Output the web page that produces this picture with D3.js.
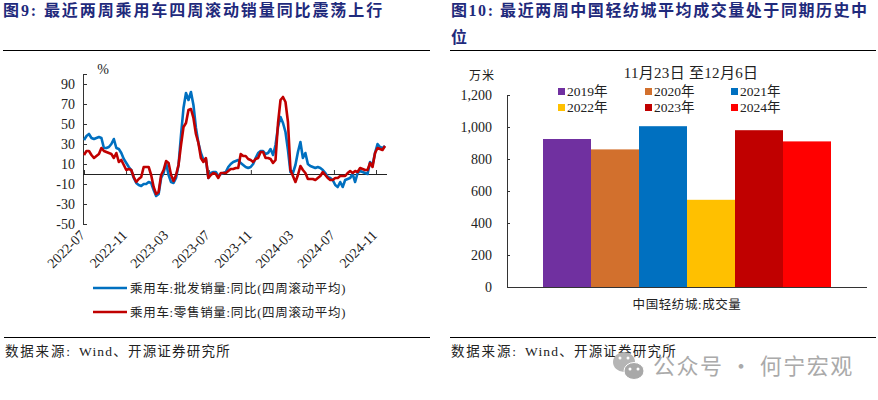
<!DOCTYPE html>
<html><head><meta charset="utf-8">
<script src="https://cdn.jsdelivr.net/npm/d3@7"></script>
<style>
html,body{margin:0;padding:0;background:#fff}
svg{display:block}
text{font-family:"Liberation Serif","Noto Sans CJK SC",serif;fill:#222}
</style></head><body>
<svg id="c" width="878" height="400"></svg>
<script>
const wholesale=[34,38,40,36,35,36,37,36,26,26,27,30,35,26,25,21,15,11,7,4,-4,-9,-11,-12,-10,-10,-8,-9,-16,-22,-20,-4,1,11,-1,-8,-9,-4,9,39,66,81,74,82,69,46,31,21,14,15,-4,1,2,2,-2,0,1,2,7,10,12,13,14,11,9,7,6,7,10,16,21,23,23,20,21,25,19,29,47,57,51,42,24,2,1,9,22,32,16,21,10,8,7,6,7,6,4,1,-3,-4,-6,-11,-13,-8,-13,-6,-5,-4,0,-8,1,3,2,1,0,12,9,21,30,27,26,28];
const retail=[19,23,23,19,16,18,20,26,23,22,21,20,16,21,12,14,9,4,5,4,-3,-8,-5,-3,7,7,7,-1,-13,-20,-18,-1,4,13,11,-1,-7,-1,9,29,47,51,64,65,56,40,31,16,12,16,-4,-1,1,0,-4,1,1,1,3,5,5,6,6,20,18,18,15,14,12,15,16,22,22,16,16,15,11,14,51,74,77,72,52,4,-2,-8,-1,8,4,1,-5,-5,-5,-6,-4,-2,2,-1,-4,-6,-6,-4,-4,-2,-2,-2,1,3,1,3,2,6,5,4,4,11,7,21,26,25,24,28];
const xTickLabels=["2022-07","2022-11","2023-03","2023-07","2023-11","2024-03","2024-07","2024-11"];
const yTicksLeft=[90,70,50,30,10,-10,-30,-50];
const seriesNames=["乘用车:批发销量:同比(四周滚动平均)","乘用车:零售销量:同比(四周滚动平均)"];
const years=["2019年","2020年","2021年","2022年","2023年","2024年"];
const volumes=[925,860,1005,545,980,910];
const barColors=["#7030A0","#D2702D","#0070C0","#FFC000","#C00000","#FF0000"];
const yTicksRight=[0,200,400,600,800,1000,1200];

const svg=d3.select("#c");
const NAVY="#1F2A7C";
function txt(x,y,s,size,o={}){
  const t=svg.append("text").attr("x",x).attr("y",y).attr("font-size",size).text(s);
  if(o.anchor)t.attr("text-anchor",o.anchor);
  if(o.ls)t.style("letter-spacing",o.ls+"px");
  if(o.w)t.attr("font-weight",o.w);
  if(o.fill)t.style("fill",o.fill);
  if(o.ff)t.style("font-family",o.ff);
  return t;
}
function rule(x1,x2,y){svg.append("line").attr("x1",x1).attr("x2",x2).attr("y1",y).attr("y2",y).attr("stroke","#000").attr("stroke-width",1);}

// titles
txt(3,16,"图9:  最近两周乘用车四周滚动销量同比震荡上行",16,{w:700,fill:NAVY,ls:1.9});
txt(451,16,"图10:  最近两周中国轻纺城平均成交量处于同期历史中",16,{w:700,fill:NAVY,ls:1.55});
txt(451,43,"位",16,{w:700,fill:NAVY});
rule(3,430,50.5);rule(450,876,50.5);
rule(4,430,337.5);rule(450,876,337.5);
[5,451].forEach(x0=>{
  txt(x0,356,"数据来源:",13.5,{ls:1.8});
  txt(x0+74,356,"Wind、开源证券研究所",13.5,{ls:1.2});
});

// left chart
const parse=d3.timeParse("%Y-%m");
const start=parse("2022-07");
const x=d3.scaleTime().domain([start,parse("2024-11")]).range([84,376]);
const y=d3.scaleLinear().domain([-50,100]).range([224,74]);
const dates=wholesale.map((_,i)=>d3.timeHour.offset(start,Math.round(i*7.275*24)));
const gy=svg.append("g").attr("transform","translate(83,0)").call(d3.axisLeft(y).tickValues(yTicksLeft.concat([100])).tickSize(-4).tickFormat(d=>d===100?"":d).tickPadding(8));
gy.selectAll("path,line").attr("stroke","#333").attr("stroke-width",1);
gy.selectAll("text").attr("font-size",14).style("font-family",null);
gy.select("path").attr("d","M0.5,74V224.5");
const gx=svg.append("g").attr("transform",`translate(0,${y(0)})`).call(d3.axisBottom(x).tickValues(xTickLabels.map(parse)).tickSize(-4).tickFormat(""));
gx.selectAll("line").attr("stroke","#333");
gx.select("path").attr("stroke","#222").attr("d",`M83,0.5H387`);
const line=d3.line().x((d,i)=>x(dates[i])).y(d=>y(d)).curve(d3.curveLinear);
svg.append("path").datum(wholesale).attr("d",line).attr("fill","none").attr("stroke","#0070C0").attr("stroke-width",2.6).attr("stroke-linejoin","round");
svg.append("path").datum(retail).attr("d",line).attr("fill","none").attr("stroke","#C00000").attr("stroke-width",2.6).attr("stroke-linejoin","round");
xTickLabels.forEach(l=>{
  const px=x(parse(l));
  svg.append("text").attr("transform",`translate(${px+2},236) rotate(-45)`).attr("text-anchor","end").attr("font-size",14).text(l);
});
txt(103,74,"%",14,{anchor:"middle"});
[["#0070C0",288],["#C00000",312]].forEach((d,i)=>{
  svg.append("line").attr("x1",93).attr("x2",127).attr("y1",d[1]).attr("y2",d[1]).attr("stroke",d[0]).attr("stroke-width",2.6);
  txt(130,d[1]+5,seriesNames[i],12.5,{ls:.7});
});

// right chart
const yr=d3.scaleLinear().domain([0,1200]).range([287,95]);
const xr=d3.scaleBand().domain(years).range([543,831]).padding(0);
const gr=svg.append("g").attr("transform","translate(507,0)").call(d3.axisLeft(yr).tickValues(yTicksRight).tickSize(-3).tickPadding(15).tickFormat(d3.format(",")));
gr.selectAll("path,line").attr("stroke","#333");
gr.selectAll("text").attr("font-size",14).style("font-family",null);
gr.select("path").attr("d","M0.5,95V287");
svg.selectAll("rect.b").data(years).join("rect").attr("class","b")
  .attr("x",d=>xr(d)).attr("width",xr.bandwidth())
  .attr("y",(d,i)=>yr(volumes[i])).attr("height",(d,i)=>yr(0)-yr(volumes[i]))
  .attr("fill",(d,i)=>barColors[i]);
svg.append("line").attr("x1",507).attr("x2",867).attr("y1",287.5).attr("y2",287.5).attr("stroke","#333");
txt(687,309,"中国轻纺城:成交量",12.5,{anchor:"middle",ls:.6});
txt(469,80,"万米",12,{ls:1});
txt(691,78,"11月23日 至12月6日",15,{anchor:"middle",ls:.3});
const lx=[558,645,731],ly=[91,107];
years.forEach((yrn,i)=>{
  const cx=lx[i%3],cy=ly[Math.floor(i/3)];
  svg.append("rect").attr("x",cx).attr("y",cy-3).attr("width",7).attr("height",7).attr("fill",barColors[i]);
  txt(cx+9,cy+5,yrn,13.5);
});

// watermark
const wm="#aaaaaa";
svg.append("ellipse").attr("cx",624).attr("cy",362).attr("rx",11).attr("ry",10).attr("fill","#b5b5b5");
svg.append("ellipse").attr("cx",634).attr("cy",371).attr("rx",10).attr("ry",8.5).attr("fill","#a8a8a8").attr("stroke","#fff").attr("stroke-width",1);
[[620,358],[628,358],[630,369],[638,369]].forEach(p=>svg.append("circle").attr("cx",p[0]).attr("cy",p[1]).attr("r",1.5).attr("fill","#fff"));
txt(653,374,"公众号 · 何宁宏观",22,{fill:wm,ff:'"Noto Sans CJK SC",sans-serif',ls:1.5});
</script></body></html>
